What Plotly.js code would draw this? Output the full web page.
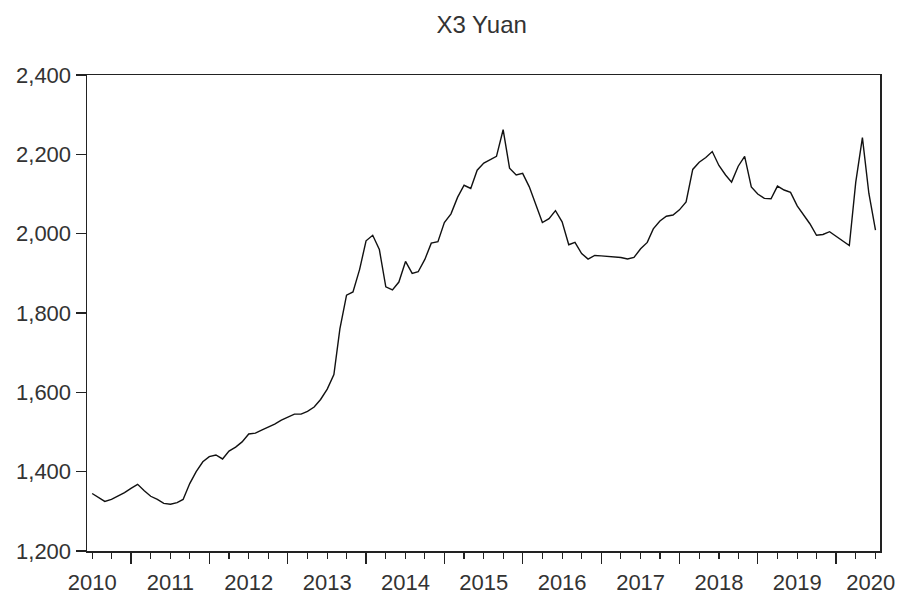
<!DOCTYPE html>
<html>
<head>
<meta charset="utf-8">
<script src="https://cdn.plot.ly/plotly-3.0.1.min.js"></script>
<style>html,body{margin:0;padding:0;background:#fff;}#chart{width:897px;height:595px;}</style>
</head>
<body>
<div id="chart"></div>
<script>
// Monthly series X3 Yuan, 2010M01 .. 2020M01
const startYear = 2010;
const values = [
  // 2010
  1345, 1335, 1325, 1330, 1338, 1347, 1358, 1368, 1352, 1338, 1330, 1320,
  // 2011
  1318, 1322, 1330, 1370, 1400, 1425, 1438, 1442, 1432, 1452, 1462, 1475,
  // 2012
  1495, 1497, 1505, 1512, 1520, 1530, 1538, 1545, 1545, 1552, 1563, 1582,
  // 2013
  1608, 1645, 1760, 1845, 1853, 1910, 1982, 1996, 1960, 1866, 1858, 1878,
  // 2014
  1930, 1900, 1904, 1935, 1976, 1980, 2028, 2050, 2092, 2122, 2114, 2160,
  // 2015
  2178, 2188, 2195, 2262, 2165, 2148, 2152, 2118, 2070, 2028, 2038, 2058,
  // 2016
  2030, 1972, 1978, 1950, 1936, 1945, 1944, 1943, 1942, 1940, 1936, 1940,
  // 2017
  1962, 1978, 2012, 2032, 2044, 2047, 2060, 2080, 2162, 2180, 2192, 2207,
  // 2018
  2172, 2148, 2130, 2170, 2195, 2118, 2100, 2089, 2088, 2120, 2110, 2104,
  // 2019
  2070, 2045, 2025, 1996, 1998, 2005, 1994, 1982, 1970, 2130, 2242, 2102,
  // 2020
  2009
];
const yearLabels = ['2010','2011','2012','2013','2014','2015','2016','2017','2018','2019','2020'];
const yTicks = [1200, 1400, 1600, 1800, 2000, 2200, 2400];

function pad(n){return (n<10?'0':'')+n;}
const months = values.map((v,i)=>{
  const y = startYear + Math.floor(i/12), m = i%12 + 1;
  return y + '-' + pad(m) + '-01';
});
const midYearTicks = yearLabels.slice(0, -1).map(y => y + '-07-01');
const labelVals = yearLabels.map((y, i) => i === yearLabels.length - 1 ? (Number(y) - 1) + '-12-10' : y + '-01-01');

const xRange = ['2009-12-08', '2020-01-22'];
const font = {family: 'Liberation Sans, Arial, sans-serif', size: 22, color: '#333'};

const trace = {
  x: months, y: values, type: 'scatter', mode: 'lines',
  line: {color: '#111', width: 1.4}, xaxis: 'x', yaxis: 'y', hoverinfo: 'skip'
};
const labelTrace = {x: [months[0]], y: [values[0]], xaxis: 'x2', yaxis: 'y', mode: 'none', type: 'scatter', showlegend: false, hoverinfo: 'skip'};

const layout = {
  width: 897, height: 595,
  margin: {l: 87, r: 17, t: 75, b: 44},
  paper_bgcolor: '#fff', plot_bgcolor: '#fff',
  showlegend: false,
  font: font,
  title: {text: 'X3 Yuan', font: {family: font.family, size: 24, color: '#333'},
          x: 0.537, xanchor: 'center', y: 0.958, yanchor: 'middle', yref: 'container'},
  xaxis: {
    type: 'date', range: xRange, showgrid: false, zeroline: false,
    showline: true, linecolor: '#222', linewidth: 1.5, mirror: true,
    tickmode: 'array', tickvals: midYearTicks, ticktext: midYearTicks.map(()=>''),
    ticks: 'outside', ticklen: 11, tickwidth: 1.3, tickcolor: '#222',
    minor: {ticks: 'outside', ticklen: 6, tickwidth: 1.2, tickcolor: '#222', dtick: 'M3', tick0: '2010-01-01', showgrid: false}
  },
  xaxis2: {
    type: 'date', range: xRange, overlaying: 'x', anchor: 'y', side: 'bottom',
    showgrid: false, zeroline: false, showline: false,
    tickmode: 'array', tickvals: labelVals, ticktext: yearLabels,
    ticks: 'outside', ticklen: 12, tickcolor: 'rgba(0,0,0,0)', tickfont: font
  },
  yaxis: {
    range: [1200, 2400], showgrid: false, zeroline: false,
    showline: true, linecolor: '#222', linewidth: 1.5, mirror: true,
    tickmode: 'array', tickvals: yTicks, tickformat: ',d',
    ticks: 'outside', ticklen: 10, tickwidth: 1.3, tickcolor: '#222', tickfont: font
  }
};

Plotly.newPlot('chart', [trace, labelTrace], layout, {displayModeBar: false, staticPlot: true});
</script>
</body>
</html>
